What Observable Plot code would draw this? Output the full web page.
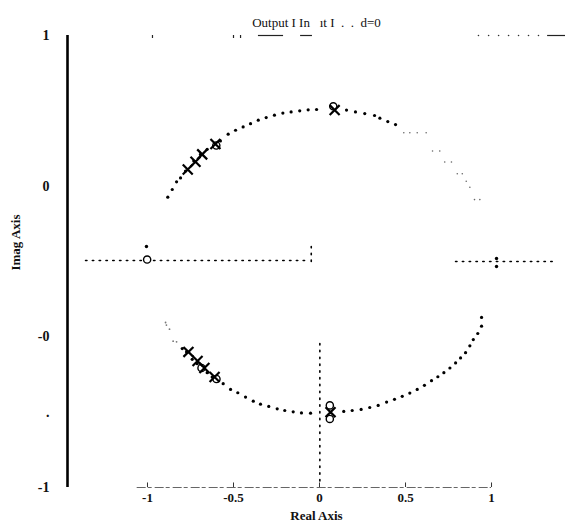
<!DOCTYPE html>
<html>
<head>
<meta charset="utf-8">
<script src="https://cdn.jsdelivr.net/npm/d3@7"></script>
<script src="https://cdn.jsdelivr.net/npm/@observablehq/plot@0.6"></script>
<style>
  html, body { margin: 0; padding: 0; background: #fff; }
  #chart svg { display: block; }
</style>
</head>
<body>
<div id="chart"></div>
<script>
// ---- data (real, imag) ----
const titleText = "Output I In   ıt I  .  .  d=0";
const xTicks = [-1, -0.5, 0, 0.5, 1];
const xTickLabels = ["-1", "-0.5", "0", "0.5", "1"];
const yTicks = [1.5, 0.5, -0.5, -1, -1.5];
const yTickLabels = ["1", "0", "-0", ".", "-1"];

const upperArcDots = [
  [-0.882,0.427],[-0.856,0.478],[-0.831,0.529],[-0.808,0.555],[-0.779,0.600],
  [-0.731,0.667],[-0.692,0.711],[-0.653,0.745],[-0.605,0.782],[-0.576,0.800],
  [-0.531,0.845],[-0.488,0.871],[-0.444,0.893],[-0.401,0.915],[-0.356,0.938],
  [-0.310,0.955],[-0.262,0.971],[-0.213,0.985],[-0.165,0.993],[-0.115,1.000],
  [-0.066,1.007],[-0.017,1.009],[0.157,1.005],[0.209,0.993],[0.263,0.982],
  [0.320,0.969],[0.351,0.951],[0.397,0.929],[0.442,0.909]
];
const upperArcFaint = [
  [0.490,0.855],[0.525,0.855],[0.568,0.855],[0.620,0.855],[0.657,0.733],
  [0.699,0.733],[0.728,0.660],[0.767,0.660],[0.801,0.582],[0.830,0.582],
  [0.853,0.533],[0.874,0.493],[0.901,0.411],[0.932,0.411]
];
const lowerArcFaint = [
  [-0.895,-0.405],[-0.890,-0.422],[-0.872,-0.449],[-0.851,-0.529],[-0.831,-0.533]
];
const lowerArcDots = [
  [-0.798,-0.578],[-0.773,-0.600],[-0.740,-0.649],[-0.711,-0.678],[-0.688,-0.707],
  [-0.653,-0.738],[-0.624,-0.767],[-0.595,-0.782],[-0.560,-0.811],[-0.517,-0.849],
  [-0.475,-0.871],[-0.430,-0.900],[-0.385,-0.927],[-0.343,-0.947],[-0.295,-0.962],
  [-0.246,-0.978],[-0.202,-0.989],[-0.153,-0.998],[-0.105,-1.005],[-0.052,-1.007],
  [0.141,-0.995],[0.190,-0.989],[0.242,-0.982],[0.292,-0.969],[0.341,-0.955],
  [0.390,-0.933],[0.436,-0.915],[0.481,-0.895],[0.525,-0.873],[0.568,-0.849],
  [0.610,-0.822],[0.651,-0.791],[0.688,-0.765],[0.723,-0.738],[0.758,-0.707],
  [0.791,-0.673],[0.820,-0.640],[0.849,-0.605],[0.874,-0.560],[0.894,-0.518],
  [0.920,-0.478],[0.942,-0.429],[0.942,-0.371]
];
const poleMarks = [
  [-0.766,0.611],[-0.721,0.662],[-0.682,0.711],[-0.605,0.780],
  [0.088,1.005],
  [-0.762,-0.600],[-0.709,-0.660],[-0.669,-0.707],[-0.610,-0.767],
  [0.064,-1.0]
];
const zeroMarks = [
  [-0.600,0.770],[0.080,1.030],
  [-0.686,-0.707],[-0.599,-0.780],
  [0.060,-0.955],[0.060,-1.045],
  [-1.002,0.013]
];
const smallDots = [[-1.006,0.100],[1.029,0.020],[1.029,-0.033]];

// dotted locus segments on / near the axes: [x1, y1, x2, y2]
const dottedSegments = [
  [-1.360,0.007,-0.081,0.007],
  [-0.048,0.100,-0.048,-0.033],
  [0.791,0.000,1.355,0.000],
  [0.002,-0.545,0.002,-1.487]
];

// remnants of the top border
const topDashes = [[-0.355,-0.209],[-0.110,-0.041],[1.326,1.430]];
const topTickMarks = [-0.971,-0.500,-0.459];
const topDots = [0.924,0.983,1.041,1.099,1.157,1.215,1.273];

const serif = "Liberation Serif, Times New Roman, serif";
const xDomain = [-1.465, 1.43];
const yDomain = [-1.5, 1.5];

const segs = dottedSegments.flatMap((s, k) => [
  {x: s[0], y: s[1], k}, {x: s[2], y: s[3], k}
]);

const chart = Plot.plot({
  width: 570,
  height: 531,
  marginLeft: 67,
  marginRight: 5,
  marginTop: 35,
  marginBottom: 44,
  x: {domain: xDomain},
  y: {domain: yDomain},
  style: {fontFamily: serif, background: "#fff"},
  marks: [
    // axes
    Plot.axisX({ticks: xTicks, tickFormat: (d, i) => xTickLabels[i], tickSize: 0, tickPadding: 5,
      fontSize: 13, fontWeight: "bold", fill: "#111", label: null}),
    Plot.axisY({ticks: yTicks, tickFormat: (d, i) => yTickLabels[i], tickSize: 0, tickPadding: 18,
      fontSize: 14, fontWeight: "bold", fill: "#111", label: null}),
    Plot.ruleX([xDomain[0]], {y1: -1.5, y2: 1.5, stroke: "#000", strokeWidth: 2.6}),
    Plot.ruleY([-1.5], {x1: -1.06, x2: 1.0, stroke: "#666", strokeWidth: 1.1, strokeDasharray: "9,2,4,3"}),
    Plot.ruleX(xTicks, {y1: -1.5, y2: -1.47, stroke: "#333", strokeWidth: 1}),
    // top border remnants
    Plot.ruleY(topDashes, {x1: d => d[0], x2: d => d[1], y: 1.5, stroke: "#222", strokeWidth: 1.2}),
    Plot.ruleX(topTickMarks, {y1: 1.5, y2: 1.48, stroke: "#222", strokeWidth: 1.2}),
    Plot.dot(topDots, {x: d => d, y: 1.5, r: 0.8, fill: "#333"}),
    // dotted segments
    Plot.line(segs, {x: "x", y: "y", z: "k", stroke: "#000", strokeWidth: 1.6,
      strokeDasharray: "1.4,5.4"}),
    // arcs
    Plot.dot(upperArcFaint, {x: d => d[0], y: d => d[1], r: 0.8, fill: "#666"}),
    Plot.dot(lowerArcFaint, {x: d => d[0], y: d => d[1], r: 0.9, fill: "#777"}),
    Plot.dot(upperArcDots, {x: d => d[0], y: d => d[1], r: 1.6, fill: "#000"}),
    Plot.dot(lowerArcDots, {x: d => d[0], y: d => d[1], r: 1.6, fill: "#000"}),
    Plot.dot(smallDots, {x: d => d[0], y: d => d[1], r: 1.7, fill: "#000"}),
    // zeros and poles
    Plot.dot(zeroMarks, {x: d => d[0], y: d => d[1], r: 3.6, stroke: "#000", strokeWidth: 1.4, fill: "#fff"}),
    Plot.dot(poleMarks, {x: d => d[0], y: d => d[1], symbol: "times", r: 4.6, stroke: "#000", strokeWidth: 2.2}),
    // titles
    Plot.text([titleText], {frameAnchor: "top", dy: -18, fontSize: 13, fill: "#111", fontFamily: serif}),
    Plot.text(["Real Axis"], {frameAnchor: "bottom", dy: 32, fontSize: 13, fontWeight: "bold", fill: "#111", fontFamily: serif}),
    Plot.text(["Imag Axis"], {frameAnchor: "left", y: -0.06, dx: -52, rotate: -90, fontSize: 13, fontWeight: "bold", fill: "#111", fontFamily: serif})
  ]
});
document.getElementById("chart").appendChild(chart);
</script>
</body>
</html>
